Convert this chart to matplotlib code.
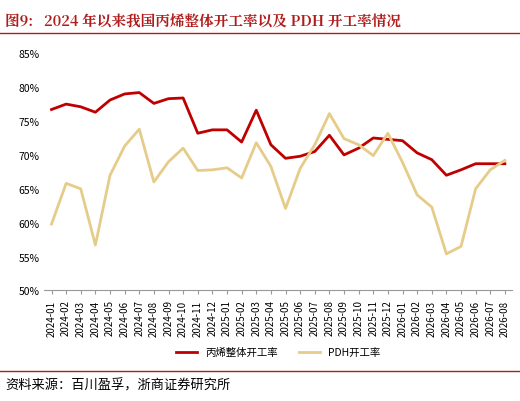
import matplotlib
matplotlib.use("Agg")
import matplotlib.pyplot as plt
plt.rcParams['font.family'] = ['Noto Sans CJK SC', 'DejaVu Sans']

months = [f"{y}-{m:02d}" for y, n in [(2024, 12), (2025, 12), (2026, 8)] for m in range(1, n + 1)]
propylene = [76.7, 77.5, 77.1, 76.3, 78.1, 79.0, 79.2, 77.6, 78.3, 78.4, 73.2, 73.7,
             73.7, 71.9, 76.6, 71.5, 69.5, 69.8, 70.5, 72.9, 70.0, 71.0, 72.5, 72.3,
             72.1, 70.3, 69.3, 67.0, 67.8, 68.7, 68.7, 68.7]
pdh = [59.8, 65.8, 65.0, 56.7, 67.0, 71.3, 73.8, 66.0, 69.0, 71.0, 67.7, 67.8,
       68.1, 66.6, 71.8, 68.3, 62.1, 68.0, 71.5, 76.1, 72.4, 71.5, 69.9, 73.2,
       68.9, 64.1, 62.3, 55.4, 56.5, 65.0, 67.8, 69.2]

fig = plt.figure(figsize=(5.2, 4.02), dpi=100)
fig.text(0.01, 0.965, "图9:   2024 年以来我国丙烯整体开工率以及 PDH 开工率情况",
         color="#b01c1c", fontsize=10.5, fontweight="bold", va="top",
         family=['Noto Serif CJK SC', 'Noto Sans CJK SC', 'DejaVu Sans'])
fig.add_artist(plt.Line2D([0.0, 1.0], [0.915, 0.915], color="#b01c1c", lw=1))
fig.add_artist(plt.Line2D([0.0, 1.0], [0.075, 0.075], color="#b01c1c", lw=1))
fig.text(0.01, 0.04, "资料来源：百川盈孚，浙商证券研究所", fontsize=9.5, va="center")

ax = fig.add_axes([0.085, 0.275, 0.9, 0.59])
x = range(len(months))
ax.plot(x, propylene, color="#c00000", lw=2, label="丙烯整体开工率")
ax.plot(x, pdh, color="#e6cc8a", lw=2, label="PDH开工率")
ax.set_ylim(50, 85)
ax.set_yticks(range(50, 86, 5))
ax.set_yticklabels([f"{v}%" for v in range(50, 86, 5)], fontsize=7.5)
ax.set_xlim(-0.5, len(months) - 0.5)
ax.set_xticks(list(x))
ax.set_xticklabels(months, rotation=90, fontsize=7)
for s in ["top", "right", "left"]:
    ax.spines[s].set_visible(False)
ax.spines["bottom"].set_color("#999999")
ax.tick_params(axis="y", length=0)
ax.tick_params(axis="x", length=3, color="#999999")
ax.legend(loc="upper center", bbox_to_anchor=(0.5, -0.2), ncol=2, frameon=False, fontsize=7.5)
fig.savefig("out.png", dpi=100)
